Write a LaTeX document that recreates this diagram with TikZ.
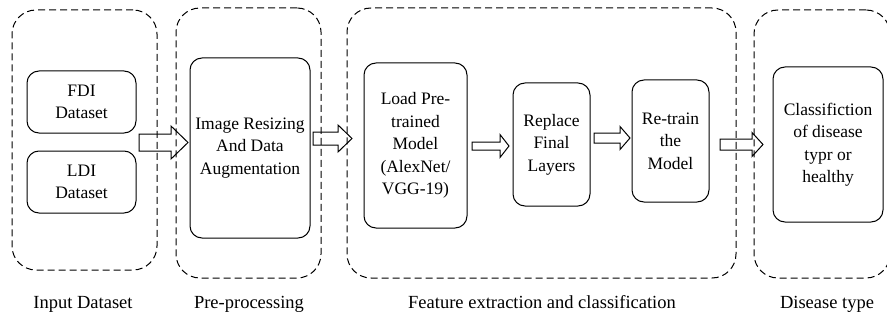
\documentclass[tikz,border=0pt]{standalone}
\usepackage{fontspec}
\setmainfont{Liberation Serif}
\usetikzlibrary{calc}
\tikzset{
  grp/.style={draw, dash pattern=on 7pt off 4pt, rounded corners=24pt, line width=1pt, inner sep=0pt, outer sep=0pt},
  box/.style={draw, rounded corners=12pt, line width=1pt, align=center, inner sep=0pt, outer sep=0pt, font=\fontsize{17.5}{22.5}\selectfont},
  blk/.style={draw, line width=1pt},
  lbl/.style={font=\fontsize{18.5}{22}\selectfont, anchor=base},
}
\newcommand{\blockarrow}[5]{%
  \draw[blk] let \p1=(#1), \p2=(#2) in
    (\x1,\y1+#3pt) -- (\x2-#5pt,\y1+#3pt) -- (\x2-#5pt,\y1+#4pt) -- (\x2,\y1)
    -- (\x2-#5pt,\y1-#4pt) -- (\x2-#5pt,\y1-#3pt) -- (\x1,\y1-#3pt) -- cycle;}
\begin{document}
\begin{tikzpicture}[x=1pt,y=-1pt]
\useasboundingbox (0,0) rectangle (887,321);
% groups
\node[grp, minimum width=145pt, minimum height=260pt] (g1) at (84.5,140) {};
\node[grp, minimum width=145pt, minimum height=270pt] (g2) at (248.5,143) {};
\node[grp, minimum width=389pt, minimum height=270pt] (g3) at (541.5,143) {};
\node[grp, minimum width=136pt, minimum height=268pt] (g4) at (822,144) {};
% boxes
\node[box, minimum width=109pt, minimum height=62pt] (fdi) at (81.5,102) {FDI\\Dataset};
\node[box, minimum width=109pt, minimum height=62pt] (ldi) at (81.5,182) {LDI\\Dataset};
\node[box, minimum width=120pt, minimum height=180pt] (ir) at (250,148) {Image Resizing\\And Data\\Augmentation};
\node[box, minimum width=103pt, minimum height=165pt] (load) at (415.5,145.5) {Load Pre-\\trained\\Model\\(AlexNet/\\VGG-19)};
\node[box, minimum width=77pt, minimum height=123pt] (rep) at (551.5,144.5) {Replace\\Final\\Layers};
\node[box, minimum width=77pt, minimum height=122pt] (ret) at (670.5,141) {Re-train\\the\\Model};
\node[box, minimum width=110pt, minimum height=155pt] (cls) at (828,144.5) {Classifiction\\of disease\\typr or\\healthy};
% labels
\node[lbl] (l1) at (83,308) {Input Dataset};
\node[lbl] (l2) at (249,308) {Pre-processing};
\node[lbl] (l3) at (542,308) {Feature extraction and classification};
\node[lbl] (l4) at (827,308) {Disease type};
% block arrows
\coordinate (a1s) at (139,142.5); \coordinate (a1e) at (188,142.5);
\coordinate (a2s) at (313,138.5); \coordinate (a2e) at (352,138.5);
\coordinate (a3s) at (472,146);   \coordinate (a3e) at (509,146);
\coordinate (a4s) at (594,138);   \coordinate (a4e) at (630,138);
\coordinate (a5s) at (720,144.5); \coordinate (a5e) at (763,144.5);
\blockarrow{a1s}{a1e}{8.5}{16.5}{17}
\blockarrow{a2s}{a2e}{6.5}{13.5}{14}
\blockarrow{a3s}{a3e}{4}{11.5}{9}
\blockarrow{a4s}{a4e}{5}{11.5}{10}
\blockarrow{a5s}{a5e}{5.5}{12}{11}
\end{tikzpicture}
\end{document}
